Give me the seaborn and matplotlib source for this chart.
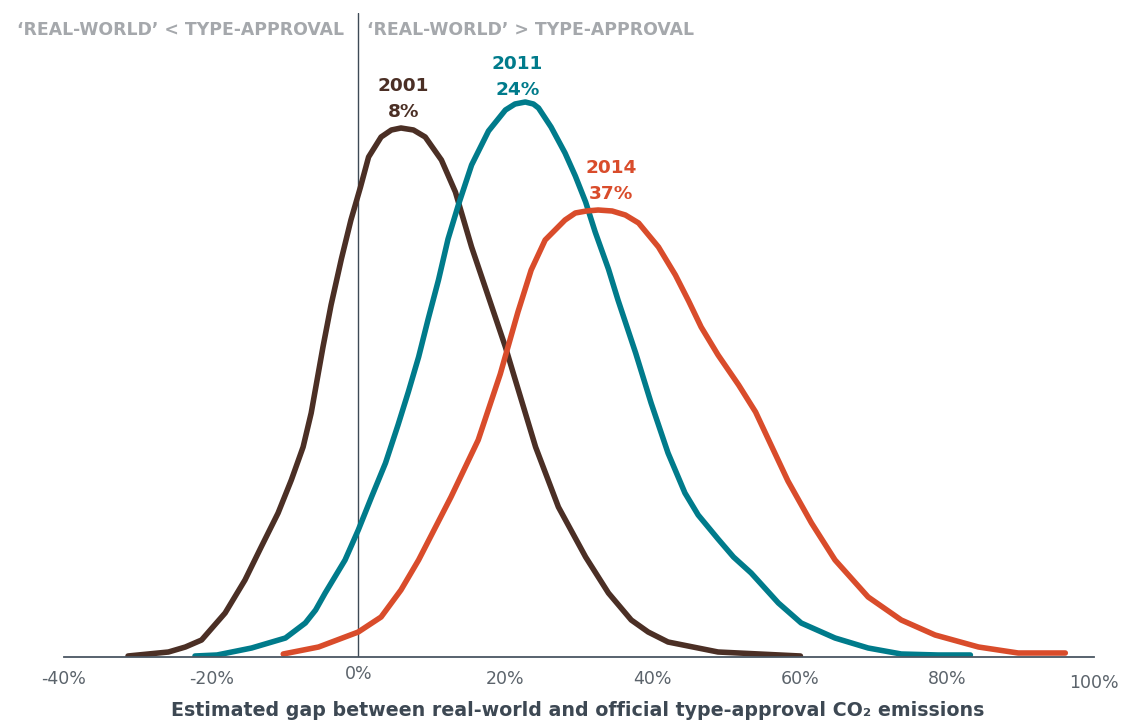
import matplotlib
matplotlib.use("Agg")
import matplotlib.pyplot as plt
import seaborn as sns
import pandas as pd

# ---- data (traced; x = gap in %, y = relative frequency, arbitrary units) ----
x_2001 = [-31.3, -25.8, -23.5, -21.3, -18.1, -15.4, -13.2, -10.9, -9.1, -7.5, -6.4, -5.6, -4.8, -3.7, -2.3,
          -1.0, 0.3, 1.4, 3.1, 4.5, 5.8, 7.5, 9.1, 11.3, 13.2, 15.4, 17.7, 20.0, 21.1, 24.1, 27.2, 30.9,
          34.0, 37.1, 39.4, 42.1, 48.9, 60.1]
y_2001 = [1, 5, 10, 17, 44, 77, 110, 144, 177, 210, 244, 277, 310, 352, 398,
          437, 470, 500, 520, 527, 529, 527, 520, 497, 465, 410, 360, 310, 283, 210, 150, 100,
          64, 37, 25, 15, 5, 1]

x_2011 = [-22.2, -19.2, -14.5, -9.9, -7.2, -5.8, -4.5, -1.8, 0.0, 1.8, 3.7, 5.4, 6.8, 8.2, 9.5, 10.9, 12.2,
          13.6, 15.4, 17.7, 20.0, 21.3, 22.7, 23.8, 24.5, 26.2, 28.1, 29.5, 30.9, 32.2, 34.0, 35.3, 37.7,
          39.8, 42.1, 44.4, 46.2, 48.9, 51.0, 53.4, 57.1, 60.2, 64.8, 69.3, 73.8, 78.8, 83.2]
y_2011 = [1, 2, 9, 19, 34, 47, 64, 97, 127, 160, 194, 232, 265, 300, 338, 377, 418,
          452, 492, 526, 547, 553, 555, 553, 549, 530, 504, 481, 455, 425, 388, 357, 304,
          254, 204, 164, 142, 118, 100, 84, 54, 34, 19, 9, 3, 2, 2]

x_2014 = [-10.2, -5.4, 0.0, 3.1, 5.8, 8.2, 12.6, 16.3, 19.3, 21.7, 23.5, 25.4, 28.1, 29.5, 31.0, 32.6,
          34.5, 36.3, 38.1, 40.8, 43.1, 44.9, 46.6, 48.9, 51.7, 54.0, 56.1, 58.4, 61.6, 64.8, 69.3, 73.8,
          78.4, 84.3, 89.7, 96.1]
y_2014 = [3, 10, 25, 40, 67, 97, 160, 217, 283, 345, 387, 417, 437, 444, 446, 447,
          446, 442, 434, 410, 382, 356, 330, 302, 272, 245, 212, 176, 134, 97, 60, 37,
          22, 10, 4, 4]

years = ["2001", "2011", "2014"]
labels_pct = ["8%", "24%", "37%"]
label_x = [6.1, 21.6, 34.4]
label_y = [566, 588, 484]
tick_vals = [-40, -20, 0, 20, 40, 60, 80, 100]
tick_labels = ["-40%", "-20%", "0%", "20%", "40%", "60%", "80%", "100%"]
colors = ["#4b2f25", "#007b8b", "#d94c2b"]

df = pd.concat([
    pd.DataFrame({"gap": x_2001, "freq": y_2001, "year": "2001"}),
    pd.DataFrame({"gap": x_2011, "freq": y_2011, "year": "2011"}),
    pd.DataFrame({"gap": x_2014, "freq": y_2014, "year": "2014"}),
], ignore_index=True)

sns.set_theme(style="white")
plt.rcParams["font.family"] = ["DejaVu Sans"]

W, H = 1122, 722
fig = plt.figure(figsize=(W / 100, H / 100), dpi=100)
ax = fig.add_axes([64 / W, 65 / H, 1030 / W, 644 / H])

sns.lineplot(data=df, x="gap", y="freq", hue="year", palette=dict(zip(years, colors)),
             linewidth=4.0, ax=ax, legend=False, sort=False,
             solid_capstyle="round", solid_joinstyle="round")

ax.set_xlim(-40, 100)
ax.set_ylim(0, 644)
ax.set_yticks([])
ax.set_ylabel("")
for s in ["top", "right", "left"]:
    ax.spines[s].set_visible(False)
ax.spines["bottom"].set_color("#4a5662")
ax.spines["bottom"].set_linewidth(1.3)

ax.axvline(0, color="#3e4a56", linewidth=1.0, zorder=1)

ax.set_xticks(tick_vals)
ax.set_xticklabels(tick_labels)
ax.tick_params(axis="x", length=0, labelsize=12.5, labelcolor="#5b636b")
pads = [9, 9, 6, 9, 9, 9, 9, 12]
for t, p in zip(ax.xaxis.get_major_ticks(), pads):
    t.set_pad(p)

ax.set_xlabel("Estimated gap between real-world and official type-approval CO\u2082 emissions",
              fontsize=13.7, color="#3d4853", fontweight="bold")
ax.xaxis.set_label_coords(0.4985, -(716.5 - 657) / 644)
ax.xaxis.label.set_va("baseline")

for yr, pct, lx, ly, c in zip(years, labels_pct, label_x, label_y, colors):
    ax.text(lx, ly, yr, ha="center", va="baseline", fontsize=13.3, color=c, fontweight="bold")
    ax.text(lx, ly - 26, pct, ha="center", va="baseline", fontsize=13.3, color=c, fontweight="bold")

fig.text(344 / W, 1 - 35 / H, "\u2018REAL-WORLD\u2019 < TYPE-APPROVAL", ha="right", va="baseline",
         fontsize=12.4, color="#a5a8ac", fontweight="bold")
fig.text(367 / W, 1 - 35 / H, "\u2018REAL-WORLD\u2019 > TYPE-APPROVAL", ha="left", va="baseline",
         fontsize=12.4, color="#a5a8ac", fontweight="bold")

fig.savefig("out.png", dpi=100)
